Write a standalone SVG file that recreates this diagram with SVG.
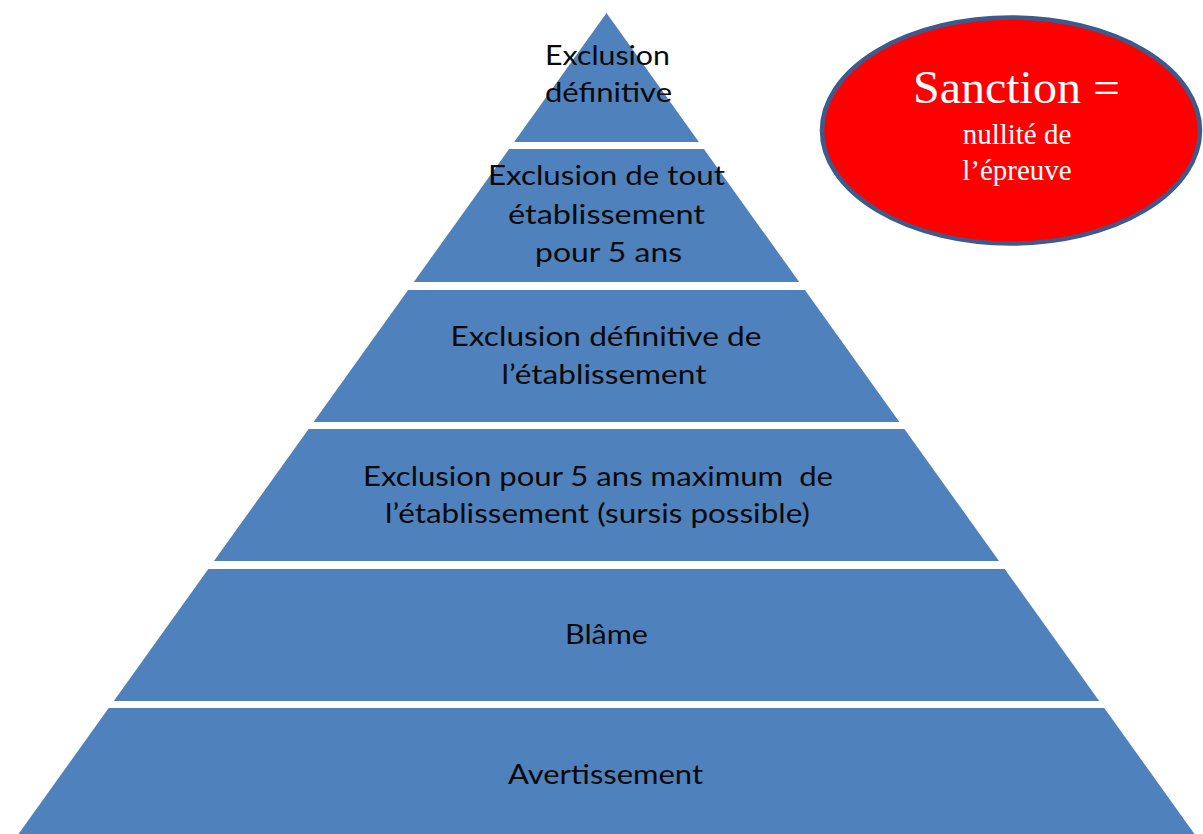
<svg xmlns="http://www.w3.org/2000/svg" width="1203" height="834" viewBox="0 0 1203 834">
  <style>
    .band { fill: #4f81bd; }
    .lbl { font-family: Lato, "Open Sans", "DejaVu Sans", sans-serif; font-size: 26px; fill: #0a0a0a; text-anchor: middle; white-space: pre; }
    .oval { fill: #ff0000; stroke: #3c5a8c; stroke-width: 4.5; }
    .big { font-family: "Liberation Serif", "Times New Roman", serif; font-size: 46px; fill: #ffffff; text-anchor: middle; }
    .small { font-family: "Liberation Serif", "Times New Roman", serif; font-size: 29px; fill: #ffffff; text-anchor: middle; }
  </style>
  <rect width="1203" height="834" fill="#ffffff"/>
  <g id="connectors"></g>
  <g id="level-1">
    <polygon class="band" points="606.5,13 698.9,142 514.1,142"/>
    <text class="lbl" x="607.5" y="65" textLength="125" lengthAdjust="spacingAndGlyphs">Exclusion</text>
    <text class="lbl" x="608.5" y="102" textLength="127" lengthAdjust="spacingAndGlyphs">définitive</text>
  </g>
  <g id="level-2">
    <polygon class="band" points="509.1,149 703.9,149 799.2,282 413.8,282"/>
    <text class="lbl" x="606.5" y="185" textLength="237" lengthAdjust="spacingAndGlyphs">Exclusion de tout</text>
    <text class="lbl" x="606.5" y="224" textLength="197" lengthAdjust="spacingAndGlyphs">établissement</text>
    <text class="lbl" x="608.5" y="262" textLength="147" lengthAdjust="spacingAndGlyphs">pour 5 ans</text>
  </g>
  <g id="level-3">
    <polygon class="band" points="408.1,290 804.9,290 899.4,422 313.6,422"/>
    <text class="lbl" x="606" y="346" textLength="311" lengthAdjust="spacingAndGlyphs">Exclusion définitive de</text>
    <text class="lbl" x="604" y="384" textLength="205" lengthAdjust="spacingAndGlyphs">l’établissement</text>
  </g>
  <g id="level-4">
    <polygon class="band" points="308.6,429 904.4,429 999,561 214,561"/>
    <text class="lbl" x="598" y="485.5" textLength="470" lengthAdjust="spacingAndGlyphs" xml:space="preserve">Exclusion pour 5 ans maximum  de</text>
    <text class="lbl" x="597.5" y="523" textLength="425" lengthAdjust="spacingAndGlyphs">l’établissement (sursis possible)</text>
  </g>
  <g id="level-5">
    <polygon class="band" points="208.3,569 1004.7,569 1099.2,701 113.8,701"/>
    <text class="lbl" x="606.5" y="643.5" textLength="83" lengthAdjust="spacingAndGlyphs">Blâme</text>
  </g>
  <g id="level-6">
    <polygon class="band" points="108.7,708 1104.3,708 1194.5,834 18.5,834"/>
    <text class="lbl" x="605.5" y="783.5" textLength="195" lengthAdjust="spacingAndGlyphs">Avertissement</text>
  </g>
  <g id="sanction">
    <ellipse class="oval" cx="1011" cy="130.5" rx="189" ry="113"/>
    <text class="big" x="1016.5" y="103" textLength="207" lengthAdjust="spacingAndGlyphs">Sanction =</text>
    <text class="small" x="1017" y="144">nullité de</text>
    <text class="small" x="1017" y="180">l’épreuve</text>
  </g>
</svg>
